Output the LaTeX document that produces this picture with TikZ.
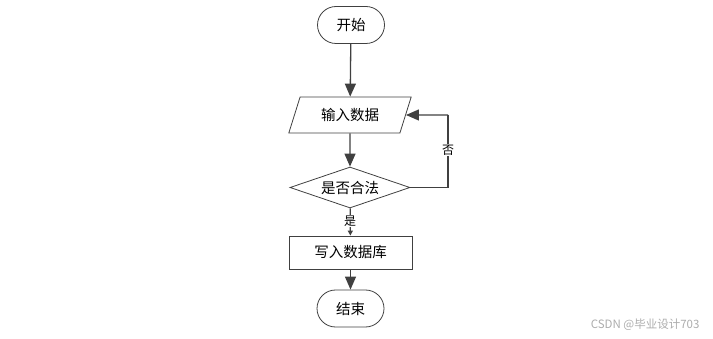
\documentclass[tikz,border=0pt]{standalone}
\usepackage{fontspec}
\setmainfont{Liberation Sans}
\newfontfamily\cjk{Noto Sans CJK SC}
\usetikzlibrary{shapes.geometric,shapes.misc,arrows.meta}
\definecolor{lc}{HTML}{404040}
\tikzset{
  base/.style={draw=lc, line width=0.8pt, font=\cjk\fontsize{14.5}{16}\selectfont, inner sep=0pt},
  term/.style={base, rounded rectangle, minimum width=67pt, minimum height=37pt},
  io/.style={base, trapezium, trapezium left angle=64, trapezium right angle=116, minimum width=123pt, minimum height=36pt, trapezium stretches=true},
  dec/.style={base, diamond, minimum width=120pt, minimum height=41pt, aspect=2.9},
  proc/.style={base, rectangle, minimum width=123pt, minimum height=33pt},
  conn/.style={draw=lc, line width=1.3pt, -{Triangle[length=13pt,width=11pt]}},
  lbl/.style={font=\cjk\fontsize{12}{14}\selectfont, fill=white, inner sep=1pt}
}
\begin{document}
\begin{tikzpicture}[x=1pt,y=-1pt]
\useasboundingbox (0,0) rectangle (713,339);
\node[term] (start) at (351,25) {开始};
\node[io] (input) at (350,115) {输入数据};
\node[dec] (check) at (350,187.5) {是否合法};
\node[proc] (write) at (350.5,252.5) {写入数据库};
\node[term] (end) at (350.5,308.5) {结束};
\coordinate (c1) at (448,187.5);
\coordinate (c2) at (448,115);
\draw[conn] (start) -- (input);
\draw[conn] (input) -- (check);
\draw[draw=lc, line width=1.3pt, -{Triangle[length=5pt,width=5pt]}] (check) -- (write);
\node[lbl] (yes) at (350,221) {是};
\draw[conn] (write) -- (end);
\draw[draw=lc, line width=1.3pt] (check.east) -- (c1) -- (c2);
\node[lbl] (no) at (448,150) {否};
\draw[conn] (c2) -- (input.east);
\node[font=\fontsize{11.5}{12}\selectfont\cjk, text=gray!65, anchor=east] (wm) at (703,325) {CSDN @毕业设计703};
\end{tikzpicture}
\end{document}
